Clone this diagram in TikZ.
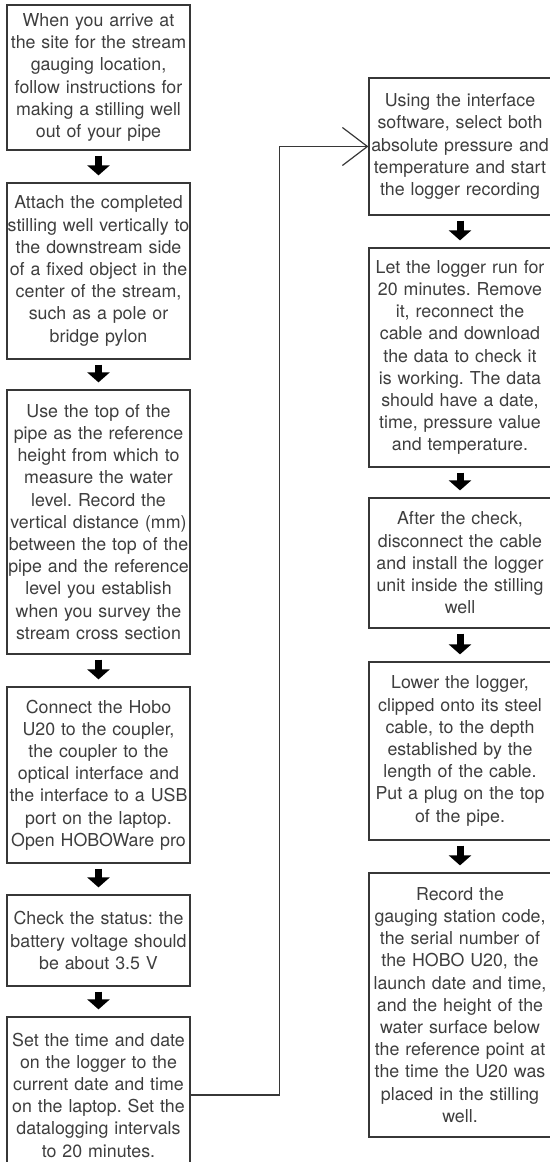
\documentclass[tikz,border=0pt]{standalone}
\usepackage{fontspec}
\setmainfont{TeX Gyre Heros}
\usetikzlibrary{arrows.meta}
\definecolor{BoxLine}{RGB}{55,55,55}
\definecolor{TxtGray}{RGB}{62,62,62}
\frenchspacing

\begin{document}
\begin{tikzpicture}[x=1pt,y=1pt,
  stepbox/.style={draw=BoxLine,line width=1.2pt,inner sep=0pt,text width=#1,align=center,
    font=\fontsize{17.8}{22.2}\selectfont,text=TxtGray},
  stepbox/.default=183pt,
  downarrow/.style={line width=7pt,-{Triangle[length=10pt,width=22pt]},shorten <=5pt,shorten >=7pt},
  backline/.style={draw=BoxLine,line width=1.2pt,-{Straight Barb[length=25pt,width=38pt]}}]
\useasboundingbox (0,0) rectangle (549,1162);

% Left column: setting up the well and the logger
\node[stepbox,minimum height=145pt](l1)at(98.5,1084.5){When you arrive at\\the site for the stream\\gauging location,\\follow instructions for\\making a stilling well\\out of your pipe};
\node[stepbox,minimum height=176pt](l2)at(98.5,891){Attach the completed\\stilling well vertically to\\the downstream side\\of a fixed object in the\\center of the stream,\\such as a pole or\\bridge pylon};
\node[stepbox,minimum height=264pt](l3)at(98.5,640){Use the top of the\\pipe as the reference\\height from which to\\measure the water\\level. Record the\\vertical distance (mm)\\between the top of the\\pipe and the reference\\level you establish\\when you survey the\\stream cross section};
\node[stepbox,minimum height=176pt](l4)at(98.5,387){Connect the Hobo\\U20 to the coupler,\\the coupler to the\\optical interface and\\the interface to a USB\\port on the laptop.\\Open HOBOWare pro};
\node[stepbox,minimum height=91pt](l5)at(98.5,221.5){Check the status: the\\battery voltage should\\be about 3.5 V};
\node[stepbox,minimum height=156pt](l6)at(98.5,67){Set the time and date\\on the logger to the\\current date and time\\on the laptop. Set the\\datalogging intervals\\to 20 minutes.};

% Right column: recording and installing
\node[stepbox=182pt,minimum height=137pt](r1)at(460,1015.5){Using the interface\\software, select both\\absolute pressure and\\temperature and start\\the logger recording};
\node[stepbox=182pt,minimum height=219pt](r2)at(460,804.5){Let the logger run for\\20 minutes. Remove\\it, reconnect the\\cable and download\\the data to check it\\is working. The data\\should have a date,\\time, pressure value\\and temperature.};
\node[stepbox=182pt,minimum height=130pt](r3)at(460,599){After the check,\\disconnect the cable\\and install the logger\\unit inside the stilling\\well};
\node[stepbox=182pt,minimum height=178pt](r4)at(460,411){Lower the logger,\\clipped onto its steel\\cable, to the depth\\established by the\\length of the cable.\\Put a plug on the top\\of the pipe.};
\node[stepbox=182pt,minimum height=264pt](r5)at(460,157){Record the\\gauging station code,\\the serial number of\\the HOBO U20, the\\launch date and time,\\and the height of the\\water surface below\\the reference point at\\the time the U20 was\\placed in the stilling\\well.};

% arrows
\foreach \a/\b in {l1/l2,l2/l3,l3/l4,l4/l5,l5/l6,r1/r2,r2/r3,r3/r4,r4/r5}
  \draw[downarrow](\a.south)--(\b.north);
\draw[backline](l6.east)--++(89,0)|-(r1.west);
\end{tikzpicture}
\end{document}
